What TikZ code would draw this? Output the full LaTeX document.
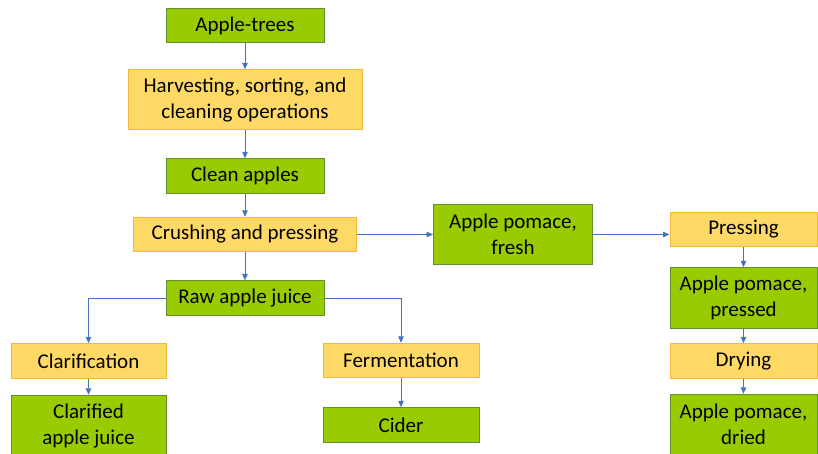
\documentclass[tikz,border=0pt]{standalone}
\usepackage{fontspec}
\setmainfont{Carlito}
\usetikzlibrary{positioning,arrows.meta}
\definecolor{leaf}{HTML}{99CC00}
\definecolor{leafline}{HTML}{668E2E}
\definecolor{honey}{HTML}{FFD966}
\definecolor{honeyline}{HTML}{F2B83C}
\definecolor{flowblue}{HTML}{4472C4}

\begin{document}
\begin{tikzpicture}[x=1pt,y=-1pt,
		every node/.style={font=\fontsize{21}{26}\selectfont, inner sep=0pt, align=center},
		greenbox/.style={rectangle, draw=leafline, fill=leaf, line width=1pt, minimum height=34.5pt},
		yellowbox/.style={rectangle, draw=honeyline, fill=honey, line width=1pt, minimum height=34.5pt},
		flow/.style={draw=flowblue, line width=0.9pt, -{Triangle[length=6.5pt,width=5.5pt]}}]
				\useasboundingbox (0,0) rectangle (818,453);
				\clip (0,0) rectangle (818,453);
				
				% Main line
				\node[greenbox, minimum width=158pt] (trees) at (245,25.5) {Apple-trees};
				\node[yellowbox, minimum width=234pt, minimum height=60pt, below=26pt of trees] (harvest) {Harvesting, sorting, and\\cleaning operations};
				\node[greenbox, minimum width=158pt, below=28pt of harvest] (clean) {Clean apples};
				\node[yellowbox, minimum width=223pt, below=23pt of clean] (crush) {Crushing and pressing};
				\node[greenbox, minimum width=158pt, below=28pt of crush] (raw) {Raw apple juice};
				
				% Juice
				\node[yellowbox, minimum width=155pt] (clar) at (88.5,361) {Clarification};
				\node[greenbox, minimum width=155pt, minimum height=61pt, below=16pt of clar] (clarjuice) {Clarified\\apple juice};
				\node[yellowbox, minimum width=156pt] (ferm) at (401,360.5) {Fermentation};
				\node[greenbox, minimum width=156pt, below=29pt of ferm] (cider) {Cider};
				
				% Pomace
				\node[greenbox, minimum width=159pt, minimum height=60pt, right=76pt of crush] (fresh) {Apple pomace,\\fresh};
				\node[yellowbox, minimum width=147pt] (press) at (743.5,229.5) {Pressing};
				\node[greenbox, minimum width=147pt, minimum height=61pt, below=20pt of press] (pressed) {Apple pomace,\\pressed};
				\node[yellowbox, minimum width=147pt, below=14pt of pressed] (dry) {Drying};
				\node[greenbox, minimum width=147pt, minimum height=61pt, below=15pt of dry] (dried) {Apple pomace,\\dried};
				
				\draw[flow] (trees) -- (harvest);
				\draw[flow] (harvest) -- (clean);
				\draw[flow] (clean) -- (crush);
				\draw[flow] (crush) -- (raw);
				\draw[flow] (raw.west) -| (clar.north);
				\draw[flow] (raw.east) -| (ferm.north);
				\draw[flow] (clar) -- (clarjuice);
				\draw[flow] (ferm) -- (cider);
				\draw[flow] (crush) -- (fresh);
				\draw[flow] (fresh.east) -- (fresh.east -| press.west);
				\draw[flow] (press) -- (pressed);
				\draw[flow] (pressed) -- (dry);
				\draw[flow] (dry) -- (dried);
			\end{tikzpicture}
\end{document}
